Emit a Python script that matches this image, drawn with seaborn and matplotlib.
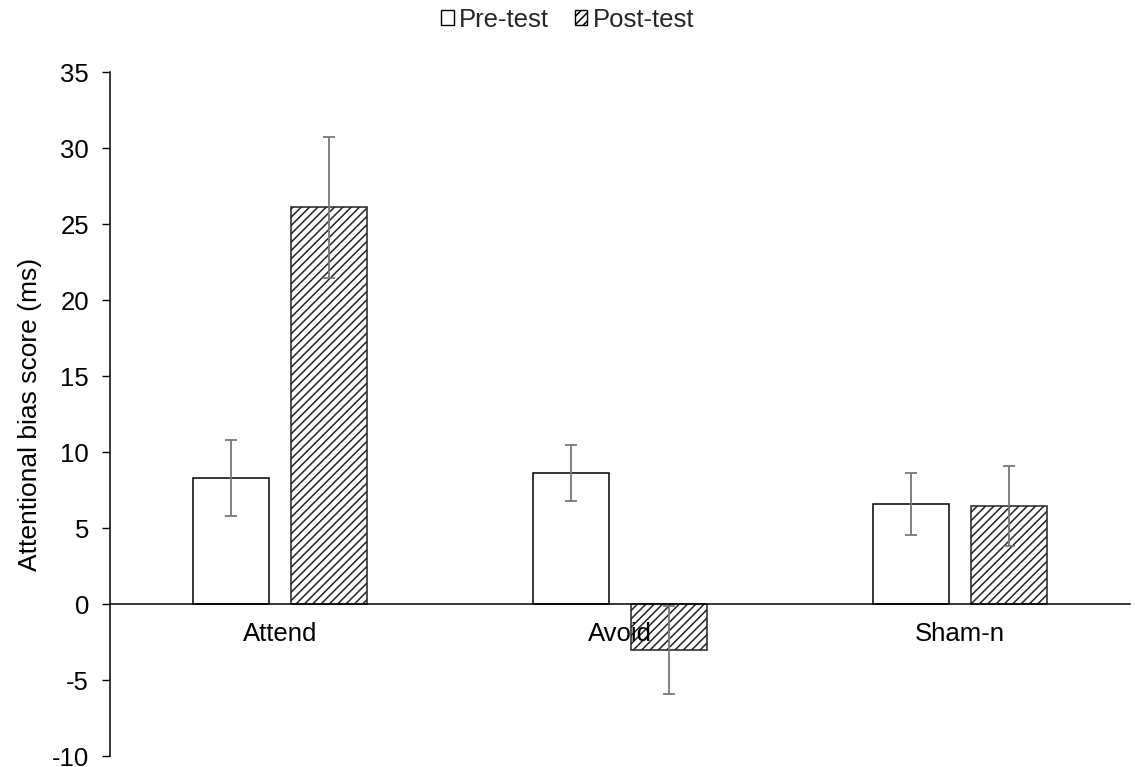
import matplotlib
matplotlib.use("Agg")
import numpy as np
import pandas as pd
import matplotlib.pyplot as plt
import seaborn as sns
from matplotlib.patches import Patch

# data
groups = ["Attend", "Avoid", "Sham-n"]
tests = ["Pre-test", "Post-test"]
pre_means = [8.3, 8.6, 6.6]
pre_err = [2.5, 1.85, 2.05]
post_means = [26.1, -3.0, 6.45]
post_err = [4.65, 2.9, 2.65]
y_ticks = [-10, -5, 0, 5, 10, 15, 20, 25, 30, 35]

df = pd.DataFrame({
    "group": groups * 2,
    "test": [tests[0]] * 3 + [tests[1]] * 3,
    "score": pre_means + post_means,
})

sns.set_theme(style="white")
plt.rcParams["font.family"] = ["Liberation Sans", "DejaVu Sans"]
plt.rcParams["axes.unicode_minus"] = False
plt.rcParams["hatch.linewidth"] = 1.1

fig = plt.figure(figsize=(11.35, 7.67), dpi=100)
ax = fig.add_axes([110 / 1135, 1 - 756 / 767, 1020 / 1135, 684 / 767])

sns.barplot(
    data=df, x="group", y="score", hue="test", order=groups, hue_order=tests,
    palette={"Pre-test": "white", "Post-test": "white"},
    edgecolor="black", linewidth=1.1, width=0.576, gap=0.215,
    errorbar=None, legend=False, ax=ax,
)

# hatch the post-test bars, add error bars at the bar centres
for bar in ax.containers[1]:
    bar.set_hatch("////")
    bar.set_edgecolor("#222222")

for bars, means, errs in zip(ax.containers, [pre_means, post_means], [pre_err, post_err]):
    xs = [b.get_x() + b.get_width() / 2 for b in bars]
    ax.errorbar(xs, means, yerr=errs, fmt="none", ecolor="#777777",
                elinewidth=1.3, capsize=4.5, capthick=1.3, zorder=5)

ax.set_axisbelow(False)  # tick labels drawn over the bars, as in the original
ax.set_xlim(-0.5, 2.5)
ax.set_ylim(-10, 35)
ax.set_yticks(y_ticks)

ax.spines["top"].set_visible(False)
ax.spines["right"].set_visible(False)
ax.spines["bottom"].set_position(("data", 0))
for s in ["left", "bottom"]:
    ax.spines[s].set_color("black")
    ax.spines[s].set_linewidth(1.1)

ax.tick_params(axis="y", left=True, length=6, width=1, direction="out",
               pad=9, labelsize=18.5, colors="black")
ax.tick_params(axis="x", bottom=False, length=0, pad=13, labelsize=18.5,
               labelcolor="black")

ax.set_xlabel("")
ax.set_ylabel("Attentional bias score (ms)", fontsize=19, color="black")
ax.yaxis.set_label_coords(-0.067, 0.5)

handles = [
    Patch(facecolor="white", edgecolor="black", label="Pre-test"),
    Patch(facecolor="white", edgecolor="black", hatch="////", label="Post-test"),
]
fig.legend(handles=handles, loc="center", bbox_to_anchor=(0.5, 0.974), ncol=2,
           frameon=False, fontsize=18.5, handlelength=0.5, handleheight=0.5,
           handletextpad=0.2, columnspacing=1.0)

fig.savefig("out.png", dpi=100)
